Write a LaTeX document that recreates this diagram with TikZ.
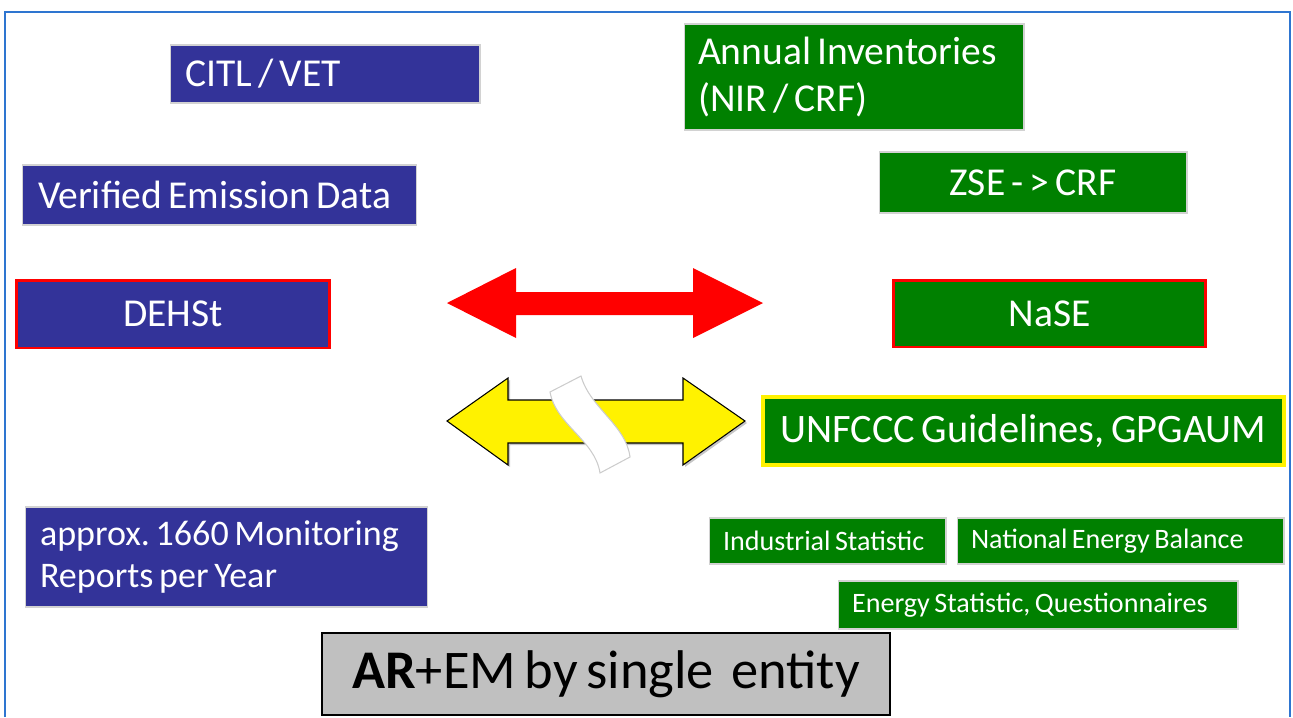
\documentclass[tikz,border=0pt]{standalone}
\usepackage{fontspec}
\setmainfont{Carlito}[WordSpace=0.7]
\usepackage{tikz}

\definecolor{dblue}{RGB}{51,51,153}
\definecolor{dgreen}{RGB}{0,128,0}
\definecolor{framecol}{RGB}{46,117,208}
\definecolor{boxgray}{RGB}{192,192,192}

\begin{document}
\begin{tikzpicture}[x=0.02cm, y=-0.02cm,
  box/.style = {rectangle, draw=gray!35, line width=0.6pt, text=white, inner sep=0pt, font=\fontsize{22.5}{25}\selectfont},
  bluebox/.style = {box, fill=dblue},
  greenbox/.style = {box, fill=dgreen},
  smallbox/.style = {greenbox, align=flush left, font=\fontsize{16}{18}\selectfont},
  redrim/.style = {draw=red, line width=1.7pt},
  yellowrim/.style = {draw=yellow, line width=2.2pt}]
\useasboundingbox (0,0) rectangle (1293,717);
\draw[framecol, line width=1.2pt] (5,717) -- (5,12) -- (1290,12) -- (1290,717);

% left side
\node[bluebox, minimum width=6.2cm, minimum height=1.16cm, text width=5.6cm, align=flush left] (citl) at (325,74) {CITL / VET};
\node[bluebox, minimum width=7.9cm, minimum height=1.2cm, text width=7.26cm, align=flush left] (verified) at (219.5,195) {Verified Emission Data};
\node[bluebox, redrim, minimum width=6.28cm, minimum height=1.36cm] (dehst) at (173,314) {DEHSt};
\node[bluebox, minimum width=8.06cm, minimum height=2cm, text width=7.46cm, align=flush left, font=\fontsize{20.5}{24}\selectfont] (reports) at (226.5,557) {approx.\ 1660 Monitoring\\Reports per Year};

% right side
\node[greenbox, minimum width=6.8cm, minimum height=2.12cm, text width=6.24cm, align=flush left, font=\fontsize{22.5}{27}\selectfont] (annual) at (854,77) {Annual Inventories\\(NIR / CRF)};
\node[greenbox, minimum width=6.16cm, minimum height=1.22cm] (zse) at (1033,182.5) {ZSE - > CRF};
\node[greenbox, redrim, minimum width=6.26cm, minimum height=1.34cm] (nase) at (1049.5,313.5) {NaSE};
\node[greenbox, yellowrim, minimum width=10.42cm, minimum height=1.36cm, font=\fontsize{23}{26}\selectfont] (unfccc) at (1023.5,431) {UNFCCC Guidelines, GPGAUM};
\node[smallbox, minimum width=4.74cm, minimum height=0.92cm, text width=4.18cm] (indus) at (827.5,541) {Industrial Statistic};
\node[smallbox, minimum width=6.54cm, minimum height=0.92cm, text width=5.98cm] (neb) at (1120.5,541) {National Energy Balance};
\node[smallbox, minimum width=8cm, minimum height=0.96cm, text width=7.44cm] (estat) at (1038,605) {Energy Statistic, Questionnaires};

\node[rectangle, fill=boxgray, draw=black, line width=1.2pt, minimum width=11.36cm, minimum height=1.64cm, font=\fontsize{31}{34}\selectfont] (arem) at (606,674) {\textbf{AR}+EM by single\ \ entity};

% block arrows
\fill[red] (447,303) -- (516,268) -- (516,292) -- (693,292) -- (693,268) -- (763,303)
  -- (693,338) -- (693,315) -- (516,315) -- (516,338) -- cycle;
\fill[gray!45] (449,423) -- (510,380) -- (510,402) -- (685,402) -- (685,380) -- (747,423)
  -- (685,467) -- (685,445) -- (510,445) -- (510,467) -- cycle;
\draw[fill=yellow, line width=0.6pt] (447,421) -- (508,378) -- (508,400) -- (683,400) -- (683,378) -- (745,421)
  -- (683,465) -- (683,443) -- (508,443) -- (508,465) -- cycle;
\draw[fill=white, draw=gray!40, line width=0.6pt] (550,392) -- (581,376) .. controls (590,408) and (626,425) .. (630,457)
  -- (600,473) .. controls (595,440) and (556,425) .. (550,392) -- cycle;
\end{tikzpicture}
\end{document}
